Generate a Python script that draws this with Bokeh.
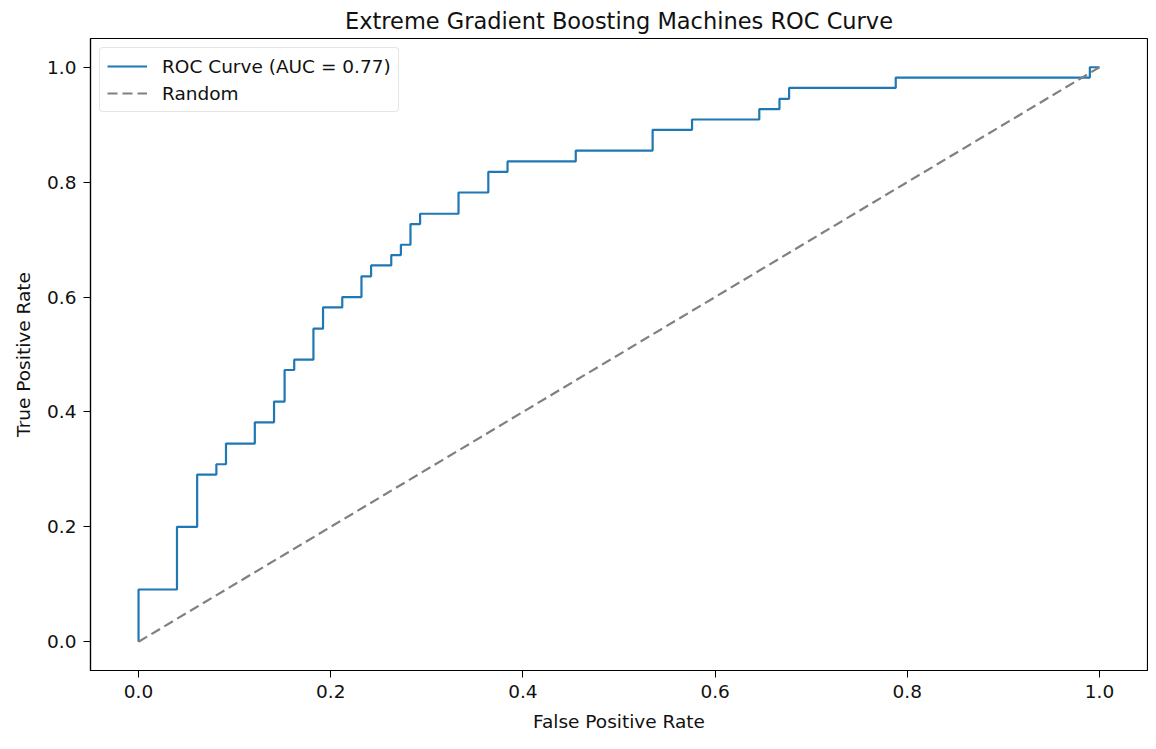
from bokeh.plotting import figure
from bokeh.models import FixedTicker, PrintfTickFormatter, Legend, LegendItem, Range1d
from bokeh.embed import file_html
from bokeh.resources import INLINE

# ROC curve corner points
fpr = [0.0, 0.0, 0.040, 0.040, 0.061, 0.061, 0.081, 0.081, 0.091, 0.091,
       0.121, 0.121, 0.141, 0.141, 0.152, 0.152, 0.162, 0.162, 0.182, 0.182,
       0.192, 0.192, 0.212, 0.212, 0.232, 0.232, 0.242, 0.242, 0.263, 0.263,
       0.273, 0.273, 0.283, 0.283, 0.293, 0.293, 0.333, 0.333, 0.364, 0.364,
       0.384, 0.384, 0.455, 0.455, 0.535, 0.535, 0.576, 0.576, 0.646, 0.646,
       0.667, 0.667, 0.677, 0.677, 0.788, 0.788, 0.990, 0.990, 1.0]
tpr = [0.0, 0.091, 0.091, 0.200, 0.200, 0.291, 0.291, 0.309, 0.309, 0.345,
       0.345, 0.382, 0.382, 0.418, 0.418, 0.473, 0.473, 0.491, 0.491, 0.545,
       0.545, 0.582, 0.582, 0.600, 0.600, 0.636, 0.636, 0.655, 0.655, 0.673,
       0.673, 0.691, 0.691, 0.727, 0.727, 0.745, 0.745, 0.782, 0.782, 0.818,
       0.818, 0.836, 0.836, 0.855, 0.855, 0.891, 0.891, 0.909, 0.909, 0.927,
       0.927, 0.945, 0.945, 0.964, 0.964, 0.982, 0.982, 1.0, 1.0]
random_x = [0.0, 1.0]
random_y = [0.0, 1.0]
ticks = [0.0, 0.2, 0.4, 0.6, 0.8, 1.0]

title = "Extreme Gradient Boosting Machines ROC Curve"
roc_label = "ROC Curve (AUC = 0.77)"
random_label = "Random"

FONT = "DejaVu Sans"

p = figure(
    output_backend="svg", toolbar_location=None,
    frame_width=1057, frame_height=632,
    min_border_left=90, min_border_right=1, min_border_top=34, min_border_bottom=70,
    x_range=Range1d(-0.05, 1.05), y_range=Range1d(-0.05, 1.05),
    title=title,
)
p.background_fill_color = "white"
p.border_fill_color = "white"
p.outline_line_color = "black"
p.outline_line_width = 1.2
p.grid.visible = False

p.title.align = "center"
p.title.text_font = FONT
p.title.text_font_size = "22.5px"
p.title.text_font_style = "normal"
p.title.text_color = "#111111"

for ax in (p.xaxis[0], p.yaxis[0]):
    ax.ticker = FixedTicker(ticks=ticks)
    ax.formatter = PrintfTickFormatter(format="%.1f")
    ax.minor_tick_line_color = None
    ax.major_tick_in = 0
    ax.major_tick_out = 7
    ax.major_tick_line_color = "black"
    ax.axis_line_color = "black"
    ax.axis_line_width = 1.2
    ax.major_label_text_font = FONT
    ax.major_label_text_font_size = "18.5px"
    ax.major_label_text_color = "#111111"
    ax.axis_label_text_font = FONT
    ax.axis_label_text_font_size = "18.5px"
    ax.axis_label_text_font_style = "normal"
    ax.axis_label_text_color = "#111111"
    ax.major_label_standoff = 7
    ax.axis_label_standoff = 10

p.xaxis.axis_label = "False Positive Rate"
p.yaxis.axis_label = "True Positive Rate"

r_roc = p.line(fpr, tpr, line_color="#1f77b4", line_width=2.2)
r_rand = p.line(random_x, random_y, line_color="gray", line_width=2.2, line_dash="10 5")

legend = Legend(
    items=[LegendItem(label=roc_label, renderers=[r_roc]),
           LegendItem(label=random_label, renderers=[r_rand])],
    location="top_left",
    margin=9, padding=7, spacing=5,
    glyph_width=40, glyph_height=22, label_standoff=15,
    label_text_font=FONT, label_text_font_size="18.5px", label_text_color="#111111",
    border_line_color="#cccccc", border_line_width=1.2,
    background_fill_color="white", background_fill_alpha=0.8,
)
legend.border_radius = 4
p.add_layout(legend)

open("out.html", "w").write(file_html(p, INLINE))
